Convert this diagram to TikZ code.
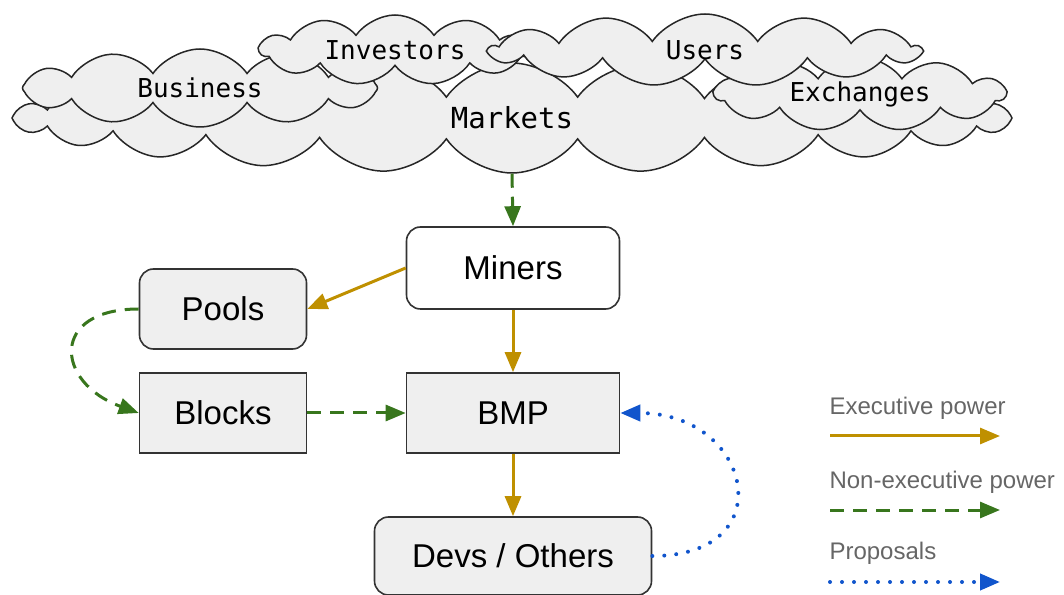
\documentclass[tikz,border=0pt]{standalone}
\usepackage{fontspec}
\setmainfont{Liberation Sans}
\newfontfamily\cloudfont{DejaVu Sans Mono}
\usepackage{xcolor}
\usetikzlibrary{arrows.meta, shapes.symbols, positioning}
\definecolor{ExecGold}{HTML}{BF9000}
\definecolor{NonExecGreen}{HTML}{38761D}
\definecolor{PropBlue}{HTML}{1155CC}
\definecolor{BoxGray}{HTML}{EFEFEF}
\definecolor{LegendGray}{HTML}{666666}

\begin{document}
\begin{tikzpicture}[x=1pt, y=1pt, node distance=145pt, on grid,
  box/.style={rectangle, draw=black!80, line width=1.6pt, fill=BoxGray, minimum width=167pt, minimum height=80pt, font=\fontsize{33}{36}\selectfont},
  rbox/.style={box, rounded corners=14pt},
  party/.style={cloud, cloud puffs=12, cloud puff arc=110, cloud ignores aspect, draw=black!85, line width=1.5pt, fill=BoxGray, font=\cloudfont\fontsize{26}{28}\selectfont},
  exec/.style={draw=ExecGold, line width=3pt, -{Triangle[length=20pt,width=16pt]}},
  nonexec/.style={draw=NonExecGreen, line width=3pt, dash pattern=on 14pt off 9pt, -{Triangle[length=20pt,width=16pt]}},
  proposal/.style={draw=PropBlue, line width=4pt, line cap=round, dash pattern=on 0pt off 12pt, -{Triangle[length=20pt,width=16pt]}},
  legend/.style={anchor=west, text=LegendGray, font=\fontsize{24}{26}\selectfont}]

        \useasboundingbox (0,0) rectangle (1064,594);

        % clouds
        \node[party, font=\cloudfont\fontsize{29}{31}\selectfont, minimum width=1000pt, minimum height=110pt, cloud puffs=24] (Mk) at (512,476) {Markets};
        \node[party, minimum width=355pt, minimum height=78pt, cloud puffs=12] (Bu) at (200,506) {Business};
        \node[party, minimum width=270pt, minimum height=70pt, cloud puffs=11] (In) at (395,544) {Investors};
        \node[party, minimum width=290pt, minimum height=66pt, cloud puffs=11] (Ex) at (860,500) {Exchanges};
        \node[party, minimum width=430pt, minimum height=72pt, cloud puffs=13] (Us) at (705,544) {Users};

        % boxes
        \node[rbox, fill=white, minimum width=213pt, minimum height=82pt] (Mi) at (513,326) {Miners};
        \node[box, minimum width=213pt, below=of Mi] (BMP) {BMP};
        \node[rbox, minimum width=277pt, minimum height=78pt, below=143pt of BMP] (Dev) {Devs / Others};
        \node[box, left=290pt of BMP] (Bl) {Blocks};
        \node[rbox, above=104pt of Bl] (Po) {Pools};

        \draw[nonexec] (Mk.south) -- (Mi.north);
        \draw[exec] (Mi.west) -- (Po.east);
        \draw[exec] (Mi) -- (BMP);
        \draw[exec] (BMP) -- (Dev);
        \draw[nonexec] (Bl) -- (BMP);
        \draw[nonexec] (Po.west) to[out=180, in=160, looseness=2.2] (Bl.west);
        \draw[proposal] (Dev.east) to[out=0, in=0, looseness=2.3] (BMP.east);

        % legend
        \node[legend] (LE) at (826,186) {Executive power};
        \node[legend] (LN) at (826,112) {Non-executive power};
        \node[legend] (LP) at (826,41) {Proposals};
        \coordinate (LEa) at (830,158); \coordinate (LEb) at (1000,158);
        \coordinate (LNa) at (830,84); \coordinate (LNb) at (1000,84);
        \coordinate (LPa) at (830,12); \coordinate (LPb) at (1000,12);
        \draw[exec] (LEa) -- (LEb);
        \draw[nonexec] (LNa) -- (LNb);
        \draw[proposal] (LPa) -- (LPb);

    \end{tikzpicture}
\end{document}
